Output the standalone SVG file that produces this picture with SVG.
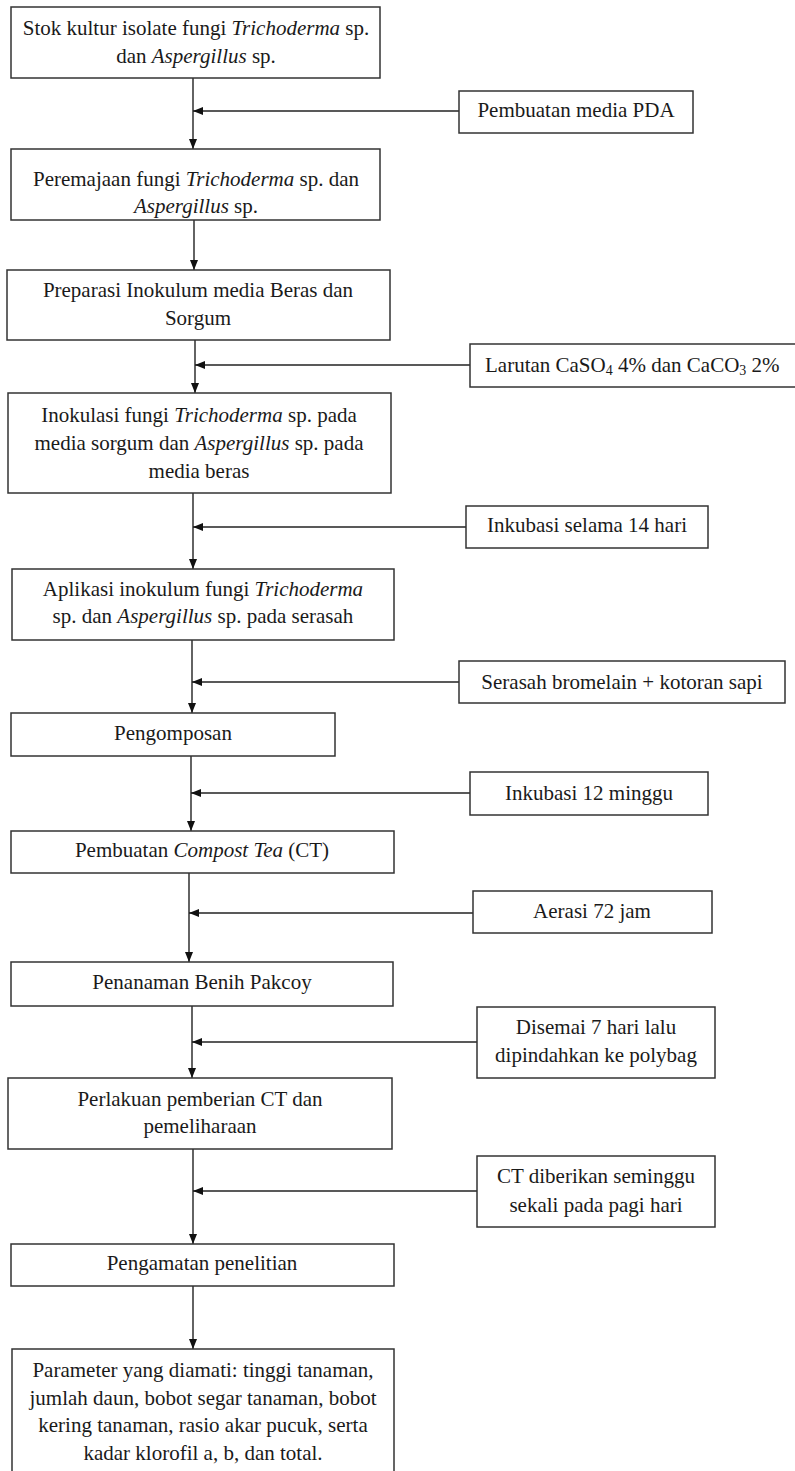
<svg xmlns="http://www.w3.org/2000/svg" width="795" height="1471" viewBox="0 0 795 1471">
<style>
.box{fill:#fff;stroke:#333;stroke-width:1.5}
.t{font-family:"Liberation Serif","Times New Roman",serif;font-size:21px;fill:#1a1a1a;text-anchor:middle}
.ts{text-anchor:start}
.i{font-style:italic}
.c{stroke:#222;stroke-width:1.4;fill:none}
</style>
<defs>
<marker id="ah" markerUnits="userSpaceOnUse" markerWidth="11" markerHeight="9" refX="10" refY="4" orient="auto">
<path d="M0,0 L10,4 L0,8 z" fill="#111"/>
</marker>
</defs>
<rect width="795" height="1471" fill="#fff"/>

<g id="connectors">
<line class="c" x1="193" y1="78" x2="193" y2="149" marker-end="url(#ah)"/>
<line class="c" x1="459" y1="111" x2="193" y2="111" marker-end="url(#ah)"/>
<line class="c" x1="194" y1="220" x2="194" y2="270" marker-end="url(#ah)"/>
<line class="c" x1="195" y1="340" x2="195" y2="393" marker-end="url(#ah)"/>
<line class="c" x1="470" y1="365" x2="195" y2="365" marker-end="url(#ah)"/>
<line class="c" x1="193" y1="493" x2="193" y2="569" marker-end="url(#ah)"/>
<line class="c" x1="466" y1="527" x2="193" y2="527" marker-end="url(#ah)"/>
<line class="c" x1="192" y1="640" x2="192" y2="713" marker-end="url(#ah)"/>
<line class="c" x1="459" y1="682" x2="192" y2="682" marker-end="url(#ah)"/>
<line class="c" x1="191" y1="756" x2="191" y2="831" marker-end="url(#ah)"/>
<line class="c" x1="470" y1="793" x2="191" y2="793" marker-end="url(#ah)"/>
<line class="c" x1="189" y1="873" x2="189" y2="962" marker-end="url(#ah)"/>
<line class="c" x1="473" y1="913" x2="189" y2="913" marker-end="url(#ah)"/>
<line class="c" x1="192" y1="1006" x2="192" y2="1078" marker-end="url(#ah)"/>
<line class="c" x1="477" y1="1042" x2="192" y2="1042" marker-end="url(#ah)"/>
<line class="c" x1="193" y1="1149" x2="193" y2="1244" marker-end="url(#ah)"/>
<line class="c" x1="477" y1="1191" x2="193" y2="1191" marker-end="url(#ah)"/>
<line class="c" x1="193" y1="1286" x2="193" y2="1349" marker-end="url(#ah)"/>
</g>

<g id="n1">
<rect class="box" x="11" y="7" width="369" height="71"/>
<text class="t" x="196" y="35">Stok kultur isolate fungi <tspan class="i">Trichoderma</tspan> sp.</text>
<text class="t" x="196" y="63">dan <tspan class="i">Aspergillus</tspan> sp.</text>
</g>
<g id="n2">
<rect class="box" x="11" y="149" width="369" height="71"/>
<text class="t" x="196" y="186">Peremajaan fungi <tspan class="i">Trichoderma</tspan> sp. dan</text>
<text class="t" x="196" y="213"><tspan class="i">Aspergillus</tspan> sp.</text>
</g>
<g id="n3">
<rect class="box" x="7" y="270" width="383" height="70"/>
<text class="t" x="198" y="297">Preparasi Inokulum media Beras dan</text>
<text class="t" x="198" y="325">Sorgum</text>
</g>
<g id="n4">
<rect class="box" x="8" y="393" width="383" height="100"/>
<text class="t" x="199" y="422">Inokulasi fungi <tspan class="i">Trichoderma</tspan> sp. pada</text>
<text class="t" x="199" y="450">media sorgum dan <tspan class="i">Aspergillus</tspan> sp. pada</text>
<text class="t" x="199" y="478">media beras</text>
</g>
<g id="n5">
<rect class="box" x="12" y="569" width="382" height="71"/>
<text class="t" x="203" y="596">Aplikasi inokulum fungi <tspan class="i">Trichoderma</tspan></text>
<text class="t" x="203" y="623">sp. dan <tspan class="i">Aspergillus</tspan> sp. pada serasah</text>
</g>
<g id="n6">
<rect class="box" x="11" y="713" width="324" height="43"/>
<text class="t" x="173" y="740">Pengomposan</text>
</g>
<g id="n7">
<rect class="box" x="11" y="831" width="383" height="42"/>
<text class="t" x="202" y="857">Pembuatan <tspan class="i">Compost Tea</tspan> (CT)</text>
</g>
<g id="n8">
<rect class="box" x="11" y="962" width="382" height="44"/>
<text class="t" x="202" y="989">Penanaman Benih Pakcoy</text>
</g>
<g id="n9">
<rect class="box" x="8" y="1078" width="384" height="71"/>
<text class="t" x="200" y="1106">Perlakuan pemberian CT dan</text>
<text class="t" x="200" y="1133">pemeliharaan</text>
</g>
<g id="n10">
<rect class="box" x="11" y="1244" width="383" height="42"/>
<text class="t" x="202" y="1270">Pengamatan penelitian</text>
</g>
<g id="n11">
<rect class="box" x="12" y="1349" width="382" height="130"/>
<text class="t" x="203" y="1377">Parameter yang diamati: tinggi tanaman,</text>
<text class="t" x="203" y="1405">jumlah daun, bobot segar tanaman, bobot</text>
<text class="t" x="203" y="1432">kering tanaman, rasio akar pucuk, serta</text>
<text class="t" x="203" y="1460">kadar klorofil a, b, dan total.</text>
</g>

<g id="s1">
<rect class="box" x="459" y="91" width="234" height="42"/>
<text class="t" x="576" y="117">Pembuatan media PDA</text>
</g>
<g id="s2">
<rect class="box" x="470" y="344" width="330" height="43"/>
<text class="t ts" x="485" y="372">Larutan CaSO<tspan font-size="14" dy="3">4</tspan><tspan dy="-3"> 4% dan CaCO</tspan><tspan font-size="14" dy="3">3</tspan><tspan dy="-3"> 2%</tspan></text>
</g>
<g id="s3">
<rect class="box" x="466" y="506" width="242" height="42"/>
<text class="t" x="587" y="532">Inkubasi selama 14 hari</text>
</g>
<g id="s4">
<rect class="box" x="459" y="661" width="326" height="42"/>
<text class="t" x="622" y="689">Serasah bromelain + kotoran sapi</text>
</g>
<g id="s5">
<rect class="box" x="470" y="772" width="238" height="43"/>
<text class="t" x="589" y="800">Inkubasi 12 minggu</text>
</g>
<g id="s6">
<rect class="box" x="473" y="891" width="239" height="42"/>
<text class="t" x="592" y="918">Aerasi 72 jam</text>
</g>
<g id="s7">
<rect class="box" x="477" y="1007" width="238" height="71"/>
<text class="t" x="596" y="1034">Disemai 7 hari lalu</text>
<text class="t" x="596" y="1062">dipindahkan ke polybag</text>
</g>
<g id="s8">
<rect class="box" x="477" y="1156" width="238" height="71"/>
<text class="t" x="596" y="1183">CT diberikan seminggu</text>
<text class="t" x="596" y="1212">sekali pada pagi hari</text>
</g>
</svg>
